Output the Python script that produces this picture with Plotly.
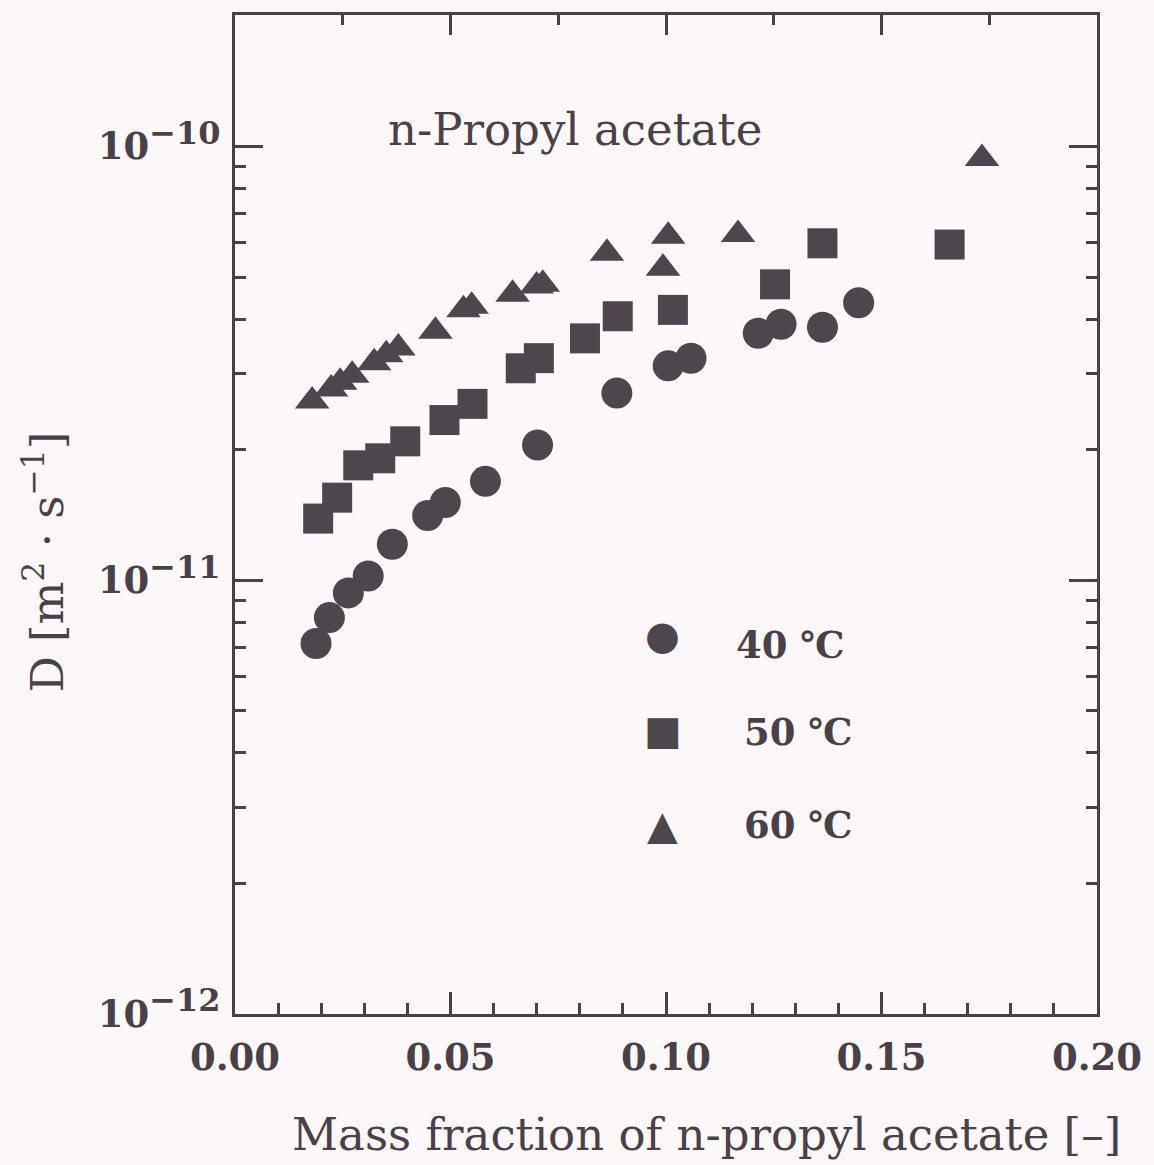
import plotly.graph_objects as go

# ---- data ----
x_40 = [0.0188, 0.0219, 0.0263, 0.0309, 0.0365, 0.0447, 0.0488, 0.0581, 0.0702,
        0.0886, 0.1005, 0.1058, 0.1214, 0.1267, 0.1363, 0.1447]
d_40 = [7.15e-12, 8.2e-12, 9.35e-12, 1.023e-11, 1.21e-11, 1.41e-11, 1.51e-11, 1.69e-11,
        2.05e-11, 2.70e-11, 3.12e-11, 3.25e-11, 3.71e-11, 3.89e-11, 3.83e-11, 4.36e-11]

x_50 = [0.0193, 0.0237, 0.0286, 0.0337, 0.0395, 0.0486, 0.0551, 0.0663, 0.0705,
        0.0812, 0.0888, 0.1016, 0.1253, 0.1363, 0.1658]
d_50 = [1.387e-11, 1.55e-11, 1.84e-11, 1.91e-11, 2.09e-11, 2.34e-11, 2.55e-11, 3.08e-11,
        3.25e-11, 3.61e-11, 4.06e-11, 4.20e-11, 4.81e-11, 5.98e-11, 5.94e-11]

x_60 = [0.0179, 0.0223, 0.0244, 0.0272, 0.0323, 0.0351, 0.0379, 0.0465, 0.0530,
        0.0549, 0.0644, 0.0700, 0.0714, 0.0863, 0.1005, 0.0993, 0.1167, 0.1733]
d_60 = [2.59e-11, 2.76e-11, 2.86e-11, 2.97e-11, 3.17e-11, 3.31e-11, 3.43e-11, 3.75e-11,
        4.20e-11, 4.28e-11, 4.56e-11, 4.77e-11, 4.81e-11, 5.67e-11, 6.21e-11, 5.24e-11,
        6.27e-11, 9.38e-11]

series_names = ["40 \u2103", "50 \u2103", "60 \u2103"]
y_tickvals = [1e-12, 1e-11, 1e-10]
y_ticktext = ["10<sup><span style='font-size:32px'>\u221212</span></sup>",
              "10<sup><span style='font-size:32px'>\u221211</span></sup>",
              "10<sup><span style='font-size:32px'>\u221210</span></sup>"]
y_minor_vals = [k * 10.0 ** e for e in (-12, -11, -10) for k in range(2, 10) if k * 10.0 ** e < 2e-10]
x_tickvals = [0.0, 0.05, 0.10, 0.15, 0.20]
x_ticktext = ["0.00", "0.05", "0.10", "0.15", "0.20"]
x_top_major = [0.05, 0.10, 0.15]
x_top_minor = [0.025, 0.075, 0.125, 0.175]

INK = "#4a4148"
MARK = "#4d464c"
BG = "#fcf8fa"
SERIF = "DejaVu Serif"
Y_RANGE = [-12, -9.697]
TW = 2.5

fig = go.Figure()
fig.add_trace(go.Scatter(x=x_40, y=d_40, mode="markers", name=series_names[0],
                         marker=dict(symbol="circle", size=31, color=MARK)))
fig.add_trace(go.Scatter(x=x_50, y=d_50, mode="markers", name=series_names[1],
                         xaxis="x", yaxis="y2",
                         marker=dict(symbol="square", size=30, color=MARK)))
fig.add_trace(go.Scatter(x=x_60, y=d_60, mode="markers", name=series_names[2],
                         xaxis="x2", yaxis="y",
                         marker=dict(symbol="triangle-up", size=30, color=MARK)))

fig.update_layout(
    width=1154, height=1165,
    margin=dict(l=235, r=56, t=13, b=151),
    paper_bgcolor=BG, plot_bgcolor=BG,
    showlegend=False,
    font=dict(family=SERIF, color=INK),
    xaxis=dict(
        range=[0, 0.2], showline=True, mirror=True, linecolor=INK, linewidth=3,
        showgrid=False, zeroline=False,
        ticks="inside", tickvals=x_tickvals, ticktext=x_ticktext,
        ticklen=22, tickwidth=TW, tickcolor=INK,
        minor=dict(dtick=0.01, ticks="inside", ticklen=11, tickwidth=TW, tickcolor=INK),
        tickfont=dict(family=SERIF, size=37, weight="bold", color=INK),
        ticklabelstandoff=9,
    ),
    xaxis2=dict(
        range=[0, 0.2], overlaying="x", side="top", anchor="y",
        showline=True, linecolor=INK, linewidth=3,
        showgrid=False, zeroline=False, showticklabels=False,
        ticks="inside", tickvals=x_top_major, ticklen=20, tickwidth=TW, tickcolor=INK,
        minor=dict(tickvals=x_top_minor, ticks="inside",
                   ticklen=10, tickwidth=TW, tickcolor=INK),
    ),
    yaxis=dict(
        type="log", range=Y_RANGE, showline=True, mirror="ticks",
        linecolor=INK, linewidth=3, showgrid=False, zeroline=False,
        ticks="inside", tickvals=y_tickvals, ticktext=y_ticktext,
        ticklen=28, tickwidth=TW, tickcolor=INK,
        tickfont=dict(family=SERIF, size=37, weight="bold", color=INK),
        ticklabelstandoff=4,
    ),
    yaxis2=dict(
        type="log", range=Y_RANGE, overlaying="y", anchor="x", side="left",
        showline=False, mirror="ticks", showgrid=False, zeroline=False,
        showticklabels=False,
        ticks="inside", tickvals=y_minor_vals, ticklen=11, tickwidth=TW, tickcolor=INK,
    ),
)

ann_font = dict(family=SERIF, size=45, color=INK)
fig.add_annotation(text="n-Propyl acetate", xref="paper", yref="paper",
                   x=0.394, y=0.885, xanchor="center", yanchor="middle",
                   showarrow=False, font=ann_font)
fig.add_annotation(text="Mass fraction of n-propyl acetate [\u2013]", xref="paper", yref="paper",
                   x=0.547, y=-0.121, xanchor="center", yanchor="middle",
                   showarrow=False, font=ann_font)
fig.add_annotation(text="D [m<sup>2</sup> \u00b7 s<sup>\u22121</sup>]", xref="paper", yref="paper",
                   x=-0.220, y=0.4525, xanchor="center", yanchor="middle",
                   showarrow=False, textangle=-90, font=ann_font)

# legend drawn as text
sym_font = dict(family="DejaVu Sans", size=40, color=MARK)
lab_font = dict(family=SERIF, size=37, weight="bold", color=INK)
legend_symbols = ["\u25cf", "\u25a0", "\u25b2"]
legend_sym_y = [0.379, 0.284, 0.189]
legend_lab_x = [0.644, 0.654, 0.654]
legend_lab_y = [0.369, 0.282, 0.189]
for s, sy, lx, ly, name in zip(legend_symbols, legend_sym_y, legend_lab_x, legend_lab_y, series_names):
    fig.add_annotation(text=s, xref="paper", yref="paper", x=0.496, y=sy,
                       xanchor="center", yanchor="middle", showarrow=False, font=sym_font)
    fig.add_annotation(text=name, xref="paper", yref="paper", x=lx, y=ly,
                       xanchor="center", yanchor="middle", showarrow=False, font=lab_font)

fig.write_html("out.html")
